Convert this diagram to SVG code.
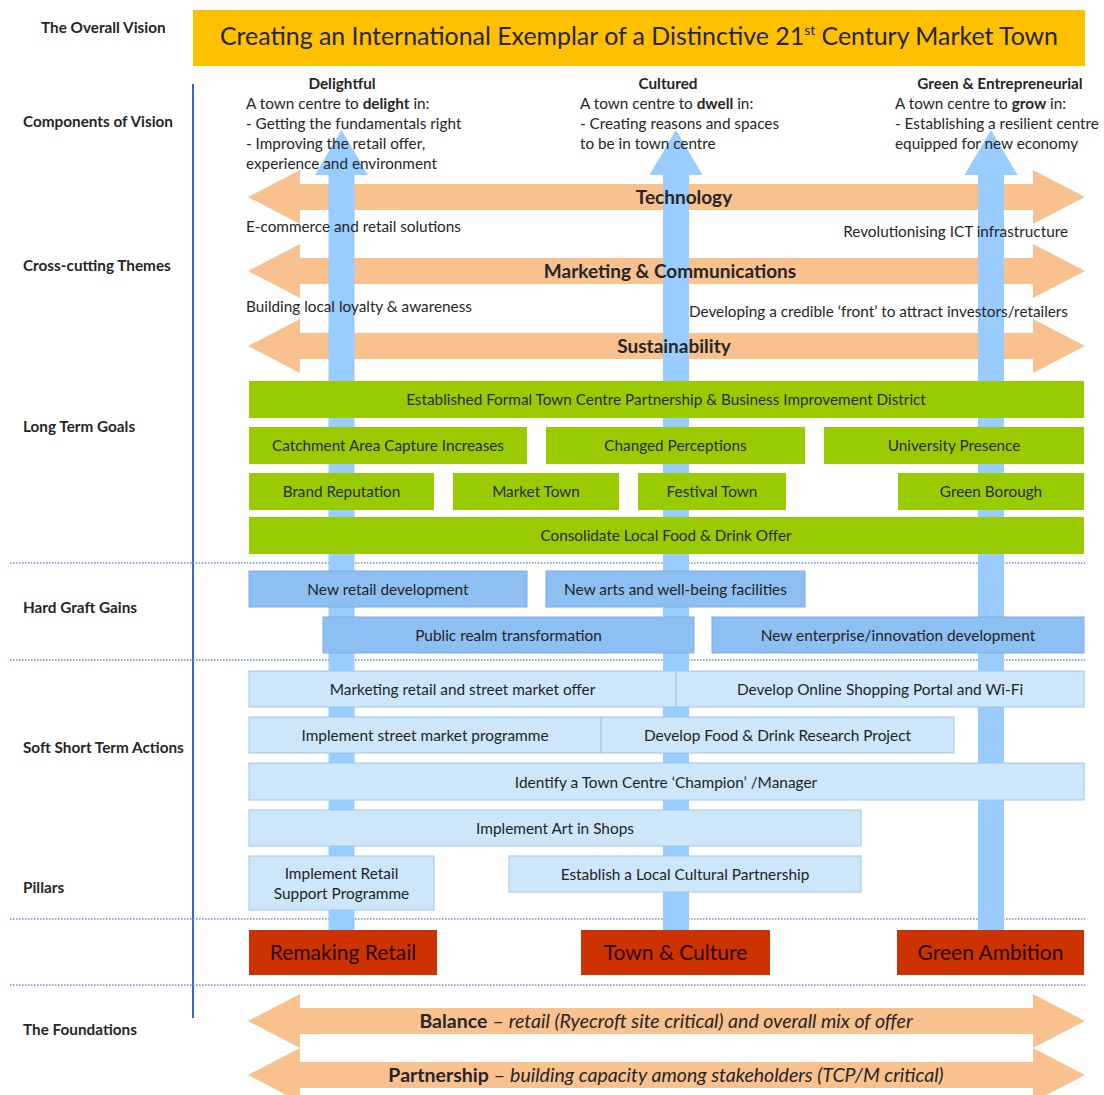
<svg xmlns="http://www.w3.org/2000/svg" width="1104" height="1095" viewBox="0 0 1104 1095">
<style>
text{font-family:"Lato","Liberation Sans",sans-serif;fill:#262626}
.lbl{font-size:15.3px;font-weight:bold}
.t{font-size:15.3px}
.b{font-weight:bold}
.hd{font-size:15.3px;font-weight:bold;text-anchor:middle}
.band{font-size:19px;font-weight:bold;text-anchor:middle}
.g rect{fill:#99CC00}
.g text{font-size:15.3px;text-anchor:middle;fill:#2a2a2a}
.h rect{fill:#8DBFF2;stroke:#7AAEE6;stroke-width:1}
.h text{font-size:15.4px;text-anchor:middle;fill:#1f1f1f}
.s rect{fill:#CDE6FA;stroke:#9CC6EE;stroke-width:1}
.s text{font-size:15.4px;text-anchor:middle;fill:#1f1f1f}
.p rect{fill:#CC3300}
.p text{font-size:21px;text-anchor:middle;fill:#2a0800}
.orange{fill:#F9C18E}
.blue{fill:#99CCFF}
.dot{stroke:#6A8BE6;stroke-width:1.5;stroke-dasharray:1.5 1.5;fill:none}
</style>

<g id="vision">
<rect x="193" y="10" width="892" height="56" fill="#FFC000"/>
<text x="639" y="45" style="font-size:24.9px;text-anchor:middle" fill="#1a1a1a">Creating an International Exemplar of a Distinctive 21<tspan font-size="14" dy="-10">st</tspan><tspan dy="10"> Century Market Town</tspan></text>
</g>

<g id="row-labels">
<text class="lbl" x="41" y="33">The Overall Vision</text>
<text class="lbl" x="23" y="127">Components of Vision</text>
<text class="lbl" x="23" y="271">Cross-cutting Themes</text>
<text class="lbl" x="23" y="432">Long Term Goals</text>
<text class="lbl" x="23" y="613">Hard Graft Gains</text>
<text class="lbl" x="23" y="753">Soft Short Term Actions</text>
<text class="lbl" x="23" y="893">Pillars</text>
<text class="lbl" x="23" y="1035">The Foundations</text>
</g>

<g id="grid">
<line x1="193" y1="84" x2="193" y2="1018" stroke="#3A63E0" stroke-width="2"/>
<line class="dot" x1="10" y1="563" x2="1085" y2="563"/>
<line class="dot" x1="10" y1="660" x2="1085" y2="660"/>
<line class="dot" x1="10" y1="919" x2="1085" y2="919"/>
<line class="dot" x1="10" y1="985" x2="1085" y2="985"/>
</g>

<g id="themes">
<path class="orange" d="M248 197 L300 170 L300 184 L1033 184 L1033 170 L1085 197 L1033 224 L1033 210 L300 210 L300 224 Z"/>
<path class="orange" d="M248 271 L300 244 L300 258 L1033 258 L1033 244 L1085 271 L1033 298 L1033 284 L300 284 L300 298 Z"/>
<path class="orange" d="M248 346 L300 319 L300 333 L1033 333 L1033 319 L1085 346 L1033 373 L1033 359 L300 359 L300 373 Z"/>
</g>

<g id="connectors">
<path class="blue" d="M341.5 130 L368 175 L354.5 175 L354.5 930 L328.5 930 L328.5 175 L315 175 Z"/>
<path class="blue" d="M676 130 L702.5 175 L689 175 L689 930 L663 930 L663 175 L649.5 175 Z"/>
<path class="blue" d="M991 130 L1017.5 175 L1004 175 L1004 930 L978 930 L978 175 L964.5 175 Z"/>
</g>

<g id="components">
<text class="hd" x="342" y="89">Delightful</text>
<text class="t" x="246" y="109">A town centre to <tspan class="b">delight</tspan> in:</text>
<text class="t" x="246" y="129">- Getting the fundamentals right</text>
<text class="t" x="246" y="149">- Improving the retail offer,</text>
<text class="t" x="246" y="169">experience and environment</text>
<text class="hd" x="668" y="89">Cultured</text>
<text class="t" x="580" y="109">A town centre to <tspan class="b">dwell</tspan> in:</text>
<text class="t" x="580" y="129">- Creating reasons and spaces</text>
<text class="t" x="580" y="149">to be in town centre</text>
<text class="hd" x="1000" y="89">Green &amp; Entrepreneurial</text>
<text class="t" x="895" y="109">A town centre to <tspan class="b">grow</tspan> in:</text>
<text class="t" x="895" y="129">- Establishing a resilient centre</text>
<text class="t" x="895" y="149">equipped for new economy</text>
</g>

<g id="theme-labels">
<text class="band" x="684" y="204">Technology</text>
<text class="band" x="670" y="278">Marketing &amp; Communications</text>
<text class="band" x="674" y="353">Sustainability</text>
<text class="t" x="246" y="232">E-commerce and retail solutions</text>
<text class="t" x="1068" y="237" text-anchor="end">Revolutionising ICT infrastructure</text>
<text class="t" x="246" y="312">Building local loyalty &amp; awareness</text>
<text class="t" x="1068" y="317" text-anchor="end">Developing a credible ‘front’ to attract investors/retailers</text>
</g>

<g id="goals" class="g">
<g id="goal-bid"><rect x="249" y="381" width="835" height="37"/><text x="666" y="405">Established Formal Town Centre Partnership &amp; Business Improvement District</text></g>
<g id="goal-catchment"><rect x="249" y="427" width="278" height="37"/><text x="388" y="451">Catchment Area Capture Increases</text></g>
<g id="goal-perceptions"><rect x="546" y="427" width="259" height="37"/><text x="675.5" y="451">Changed Perceptions</text></g>
<g id="goal-university"><rect x="824" y="427" width="260" height="37"/><text x="954" y="451">University Presence</text></g>
<g id="goal-brand"><rect x="249" y="473" width="185" height="37"/><text x="341.5" y="497">Brand Reputation</text></g>
<g id="goal-market"><rect x="453" y="473" width="166" height="37"/><text x="536" y="497">Market Town</text></g>
<g id="goal-festival"><rect x="638" y="473" width="148" height="37"/><text x="712" y="497">Festival Town</text></g>
<g id="goal-green"><rect x="898" y="473" width="186" height="37"/><text x="991" y="497">Green Borough</text></g>
<g id="goal-food"><rect x="249" y="517" width="835" height="37"/><text x="666" y="541">Consolidate Local Food &amp; Drink Offer</text></g>
</g>

<g id="hard" class="h">
<g id="hard-retail"><rect x="249" y="571" width="278" height="36"/><text x="388" y="594.5">New retail development</text></g>
<g id="hard-arts"><rect x="546" y="571" width="259" height="36"/><text x="675.5" y="594.5">New arts and well-being facilities</text></g>
<g id="hard-realm"><rect x="323" y="617" width="371" height="36"/><text x="508.5" y="640.5">Public realm transformation</text></g>
<g id="hard-enterprise"><rect x="712" y="617" width="372" height="36"/><text x="898" y="640.5">New enterprise/innovation development</text></g>
</g>

<g id="soft" class="s">
<g id="soft-marketing"><rect x="249" y="671" width="427" height="36"/><text x="462.5" y="694.5">Marketing retail and street market offer</text></g>
<g id="soft-online"><rect x="676" y="671" width="408" height="36"/><text x="880" y="694.5">Develop Online Shopping Portal and Wi-Fi</text></g>
<g id="soft-street"><rect x="249" y="717" width="352" height="36"/><text x="425" y="740.5">Implement street market programme</text></g>
<g id="soft-food"><rect x="601" y="717" width="353" height="36"/><text x="777.5" y="740.5">Develop Food &amp; Drink Research Project</text></g>
<g id="soft-champion"><rect x="249" y="763" width="835" height="37"/><text x="666" y="787.5">Identify a Town Centre ‘Champion’ /Manager</text></g>
<g id="soft-art"><rect x="249" y="810" width="612" height="36"/><text x="555" y="833.5">Implement Art in Shops</text></g>
<g id="soft-retail-support"><rect x="249" y="856" width="185" height="54"/><text x="341.5" y="879">Implement Retail</text><text x="341.5" y="899">Support Programme</text></g>
<g id="soft-cultural"><rect x="509" y="856" width="352" height="36"/><text x="685" y="879.5">Establish a Local Cultural Partnership</text></g>
</g>

<g id="pillars" class="p">
<g id="pillar-retail"><rect x="249" y="930" width="188" height="45"/><text x="343" y="959.5">Remaking Retail</text></g>
<g id="pillar-culture"><rect x="581" y="930" width="189" height="45"/><text x="675.5" y="959.5">Town &amp; Culture</text></g>
<g id="pillar-green"><rect x="897" y="930" width="187" height="45"/><text x="990.5" y="959.5">Green Ambition</text></g>
</g>

<g id="foundations">
<path class="orange" d="M248 1021 L300 994 L300 1008 L1033 1008 L1033 994 L1085 1021 L1033 1048 L1033 1034 L300 1034 L300 1048 Z"/>
<path class="orange" d="M248 1075 L300 1048 L300 1062 L1033 1062 L1033 1048 L1085 1075 L1033 1102 L1033 1088 L300 1088 L300 1102 Z"/>
<text x="666" y="1028" style="font-size:19.5px;text-anchor:middle"><tspan font-weight="bold">Balance</tspan> – <tspan font-style="italic">retail (Ryecroft site critical) and overall mix of offer</tspan></text>
<text x="666" y="1082" style="font-size:19.5px;text-anchor:middle"><tspan font-weight="bold">Partnership</tspan> – <tspan font-style="italic">building capacity among stakeholders (TCP/M critical)</tspan></text>
</g>
</svg>
